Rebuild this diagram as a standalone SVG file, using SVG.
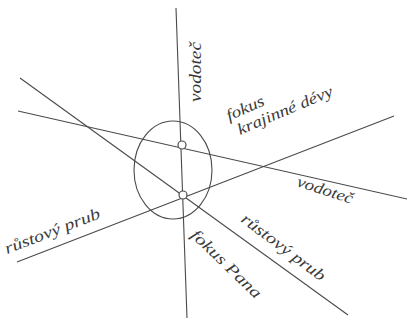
<svg xmlns="http://www.w3.org/2000/svg" width="407" height="324" viewBox="0 0 407 324">
<style>
.ln{stroke:#4a4a4a;stroke-width:1.1;fill:none}
.lb{font-family:"Liberation Serif","DejaVu Serif",serif;font-style:italic;font-size:16px;fill:#3a3a3a}
.nd{fill:#fff;stroke:#4a4a4a;stroke-width:1.2}
</style>
<rect width="407" height="324" fill="#fff"/>
<g id="connectors">
<line class="ln" x1="176" y1="8" x2="187" y2="318"/>
<line class="ln" x1="20" y1="78" x2="348" y2="315"/>
<line class="ln" x1="18" y1="111" x2="407" y2="199"/>
<line class="ln" x1="17" y1="262" x2="394" y2="116"/>
<ellipse class="ln" cx="173" cy="170" rx="39" ry="49"/>
</g>
<g id="node-top"><circle class="nd" cx="182" cy="145" r="4"/></g>
<g id="node-bottom"><circle class="nd" cx="183" cy="195" r="4"/></g>
<g id="labels">
<text class="lb" transform="translate(201,102) rotate(-90)" textLength="60" lengthAdjust="spacingAndGlyphs">vodoteč</text>
<text class="lb" transform="translate(229,121) rotate(-24)" textLength="40" lengthAdjust="spacingAndGlyphs">fokus</text>
<text class="lb" transform="translate(240,135) rotate(-23)" textLength="102" lengthAdjust="spacingAndGlyphs">krajinné dévy</text>
<text class="lb" transform="translate(296,186) rotate(18)" textLength="58" lengthAdjust="spacingAndGlyphs">vodoteč</text>
<text class="lb" transform="translate(7,254) rotate(-21)" textLength="101" lengthAdjust="spacingAndGlyphs">růstový prub</text>
<text class="lb" transform="translate(240,221) rotate(37)" textLength="101" lengthAdjust="spacingAndGlyphs">růstový prub</text>
<text class="lb" transform="translate(190,236) rotate(44)" textLength="91" lengthAdjust="spacingAndGlyphs">fokus Pana</text>
</g>
</svg>
